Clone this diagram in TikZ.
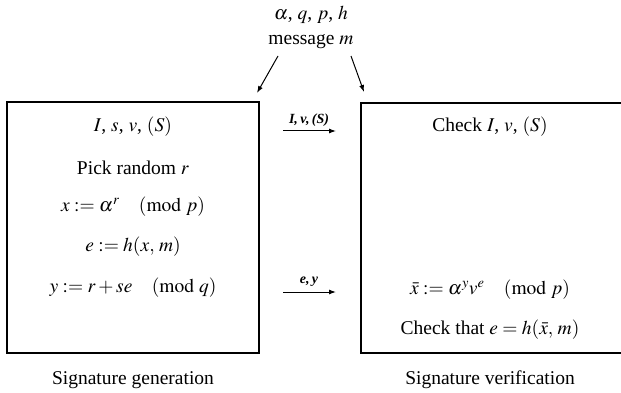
\documentclass[tikz,border=0pt]{standalone}
\usepackage{mathptmx}
\usepackage{fontspec}
\setmainfont{Liberation Serif}
\usetikzlibrary{arrows.meta}
\begin{document}
\begin{tikzpicture}[x=1pt,y=-1pt,
  box/.style={draw,line width=1.4pt},
  txt/.style={font=\fontsize{19.5}{22}\selectfont,inner sep=0pt},
  lbl/.style={font=\fontsize{14}{16}\selectfont\bfseries\itshape,inner sep=0pt},
  arr/.style={line width=1pt,-{Latex[length=7pt,width=5pt]}}]
\useasboundingbox (0,0) rectangle (621,393);
\draw[box] (7,102) rectangle (259,353);
\draw[box] (361,103) rectangle (622,353);
% top text
\node[txt] (params) at (311,15) {$\alpha$, $q$, $p$, $h$};
\node[txt] (msg) at (311,42) {message $m$};
\coordinate (d1s) at (278,56);
\coordinate (d1e) at (257,93);
\coordinate (d2s) at (351,56);
\coordinate (d2e) at (364,92);
\draw[arr] (d1s) -- (d1e);
\draw[arr] (d2s) -- (d2e);
% left box
\node[txt] (l1) at (133,127) {$I$, $s$, $v$, $(S)$};
\node[txt] (l2) at (133,168) {Pick random $r$};
\node[txt] (l3) at (133,207) {$x := \alpha^{r}\quad (\mathrm{mod}\ p)$};
\node[txt] (l4) at (133,247) {$e := h(x,\, m)$};
\node[txt] (l5) at (133,288) {$y := r + se\quad (\mathrm{mod}\ q)$};
% right box
\node[txt] (r1) at (490,127) {Check $I$, $v$, $(S)$};
\node[txt] (r2) at (490,290) {$\bar{x} := \alpha^{y}v^{e}\quad (\mathrm{mod}\ p)$};
\node[txt] (r3) at (490,330) {Check that $e = h(\bar{x},\, m)$};
% middle arrows
\coordinate (a1s) at (283,131);
\coordinate (a1e) at (336,131);
\draw[arr] (a1s) -- (a1e);
\node[lbl] (a1l) at (309,120) {I,\,v,\,(S)};
\coordinate (a2s) at (283,292);
\coordinate (a2e) at (336,292);
\draw[arr] (a2s) -- (a2e);
\node[lbl] (a2l) at (309,282) {e,\,y};
% captions
\node[txt] (c1) at (133,380) {Signature generation};
\node[txt] (c2) at (490,380) {Signature verification};
\end{tikzpicture}
\end{document}
